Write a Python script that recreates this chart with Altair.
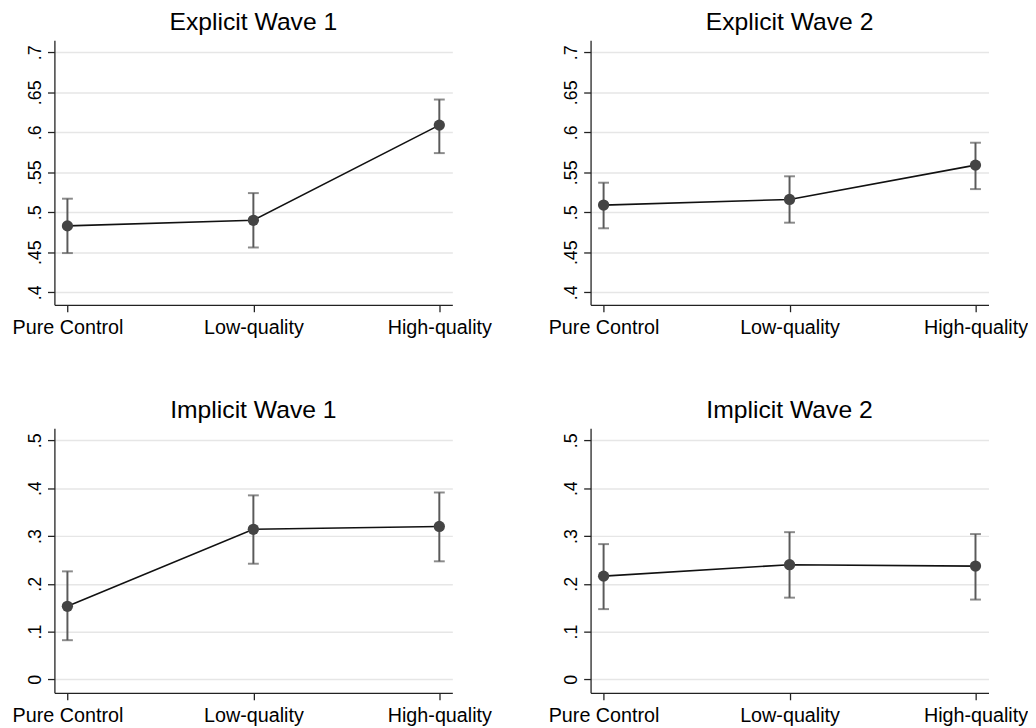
import altair as alt
import pandas as pd

categories = ["Pure Control", "Low-quality", "High-quality"]

titles = ["Explicit Wave 1", "Explicit Wave 2", "Implicit Wave 1", "Implicit Wave 2"]

exp_w1_mean = [0.483, 0.490, 0.609]
exp_w1_lo = [0.449, 0.456, 0.574]
exp_w1_hi = [0.517, 0.524, 0.641]

exp_w2_mean = [0.509, 0.516, 0.559]
exp_w2_lo = [0.480, 0.487, 0.529]
exp_w2_hi = [0.537, 0.545, 0.587]

imp_w1_mean = [0.153, 0.314, 0.320]
imp_w1_lo = [0.082, 0.242, 0.247]
imp_w1_hi = [0.226, 0.385, 0.391]

imp_w2_mean = [0.216, 0.240, 0.237]
imp_w2_lo = [0.147, 0.171, 0.167]
imp_w2_hi = [0.283, 0.308, 0.304]

explicit_ticks = [0.4, 0.45, 0.5, 0.55, 0.6, 0.65, 0.7]
implicit_ticks = [0, 0.1, 0.2, 0.3, 0.4, 0.5]
explicit_domain = [0.3843, 0.7152]
implicit_domain = [-0.0282, 0.5254]

FONT = "Liberation Sans"
W, H = 403, 268


def panel(title, mean, lo, hi, ticks, domain):
    df = pd.DataFrame({"cat": categories, "mean": mean, "lo": lo, "hi": hi})
    x = alt.X(
        "cat:N",
        sort=categories,
        scale=alt.Scale(type="point", padding=0.07),
        axis=alt.Axis(
            title=None,
            labelAngle=0,
            labelFontSize=20,
            labelPadding=6,
            tickSize=7,
            grid=False,
            labelOverlap=False,
            labelBound=False,
        ),
    )
    yscale = alt.Scale(domain=domain, nice=False, zero=False)
    base = alt.Chart(df)
    grid_axis = alt.Axis(
        title=None,
        values=ticks,
        labelExpr="datum.value == 0 ? '0' : slice(format(datum.value, '.2~f'), 1)",
        labelAngle=-90,
        labelAlign="center",
        labelBaseline="bottom",
        labelFontSize=18,
        labelPadding=3,
        tickSize=7,
        grid=True,
        gridColor="#e6e6e6",
        gridWidth=1.5,
    )
    bars = base.mark_rule(color="#5a5a5a", strokeWidth=2).encode(
        x=x, y=alt.Y("lo:Q", scale=yscale, axis=grid_axis), y2="hi:Q"
    )
    cap_lo = base.mark_tick(color="#5a5a5a", size=11, thickness=2).encode(
        x=x, y=alt.Y("lo:Q", scale=yscale)
    )
    cap_hi = base.mark_tick(color="#5a5a5a", size=11, thickness=2).encode(
        x=x, y=alt.Y("hi:Q", scale=yscale)
    )
    line = base.mark_line(color="#111111", strokeWidth=1.6).encode(
        x=x, y=alt.Y("mean:Q", scale=yscale)
    )
    pts = base.mark_circle(color="#444444", size=130, opacity=1).encode(
        x=x, y=alt.Y("mean:Q", scale=yscale)
    )
    return alt.layer(bars, cap_lo, cap_hi, line, pts).properties(
        width=W,
        height=H,
        title=alt.TitleParams(title, fontSize=25, fontWeight="normal", font=FONT,
                              color="#000000", anchor="middle", offset=5),
    )


p1 = panel(titles[0], exp_w1_mean, exp_w1_lo, exp_w1_hi, explicit_ticks, explicit_domain)
p2 = panel(titles[1], exp_w2_mean, exp_w2_lo, exp_w2_hi, explicit_ticks, explicit_domain)
p3 = panel(titles[2], imp_w1_mean, imp_w1_lo, imp_w1_hi, implicit_ticks, implicit_domain)
p4 = panel(titles[3], imp_w2_mean, imp_w2_lo, imp_w2_hi, implicit_ticks, implicit_domain)

chart = (
    alt.vconcat(
        alt.hconcat(p1, p2, spacing=57),
        alt.hconcat(p3, p4, spacing=57),
        spacing=62,
    )
    .properties(
        padding={"left": 4, "top": -2, "right": 0, "bottom": 0},
        background="white",
    )
    .configure_view(stroke=None)
    .configure_axis(
        labelFont=FONT,
        labelColor="#000000",
        domainColor="#222222",
        domainWidth=1.3,
        tickColor="#222222",
        tickWidth=1.3,
    )
)

chart.save("out.html", embed_options={"renderer": "svg", "actions": False})
